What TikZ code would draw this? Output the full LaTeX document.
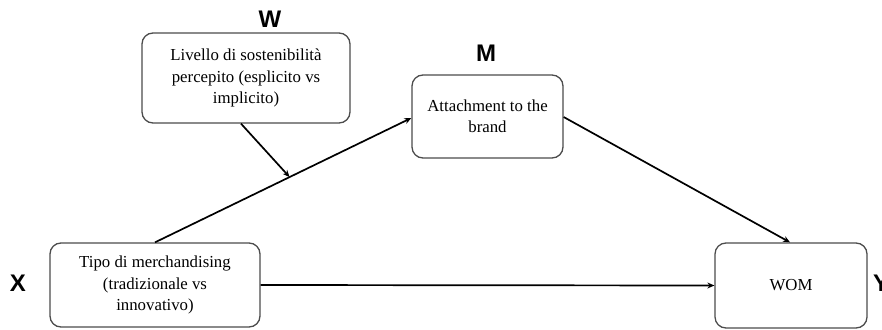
\documentclass[tikz,border=0pt]{standalone}
\usepackage{fontspec}
\setmainfont{Liberation Serif}
\newfontfamily\lblfont{Liberation Sans}
\usetikzlibrary{arrows.meta}
\begin{document}
\begin{tikzpicture}[x=1pt,y=-1pt,
  varbox/.style={draw=black!70, line width=1.3pt, rounded corners=11pt, align=center,
    inner sep=0pt, font=\fontsize{16.8}{21.5}\selectfont},
  lbl/.style={font=\lblfont\bfseries\fontsize{24}{26}\selectfont, inner sep=0pt},
  conn/.style={line width=1.7pt, -{Stealth[length=7pt,width=6pt]}}]
\useasboundingbox (0,0) rectangle (882,329);
\node[varbox, minimum width=208pt, minimum height=90pt] (w) at (246,78)
  {Livello di sostenibilità\\percepito (esplicito vs\\implicito)};
\node[varbox, minimum width=151pt, minimum height=83pt] (m) at (487.5,116.5)
  {Attachment to the\\brand};
\node[varbox, minimum width=210pt, minimum height=84pt] (x) at (155,285)
  {Tipo di merchandising\\(tradizionale vs\\innovativo)};
\node[varbox, minimum width=152pt, minimum height=85pt] (y) at (791,285.5)
  {WOM};
\node[lbl] (lw) at (270,19) {W};
\node[lbl] (lm) at (486,53) {M};
\node[lbl] (lx) at (18,283) {X};
\node[lbl, anchor=west] (ly) at (873,283) {Y};
\coordinate (xs) at (x.north);
\coordinate (me) at (m.west |- 0,118);
\draw[conn] (xs) -- (me) coordinate[pos=0.525] (mod);
\draw[conn] (w.south -| 241,0) -- (mod);
\draw[conn] (m.east |- 0,117) -- (y.north -| 790,0);
\draw[conn] (x.east) -- (y.west);
\end{tikzpicture}
\end{document}
